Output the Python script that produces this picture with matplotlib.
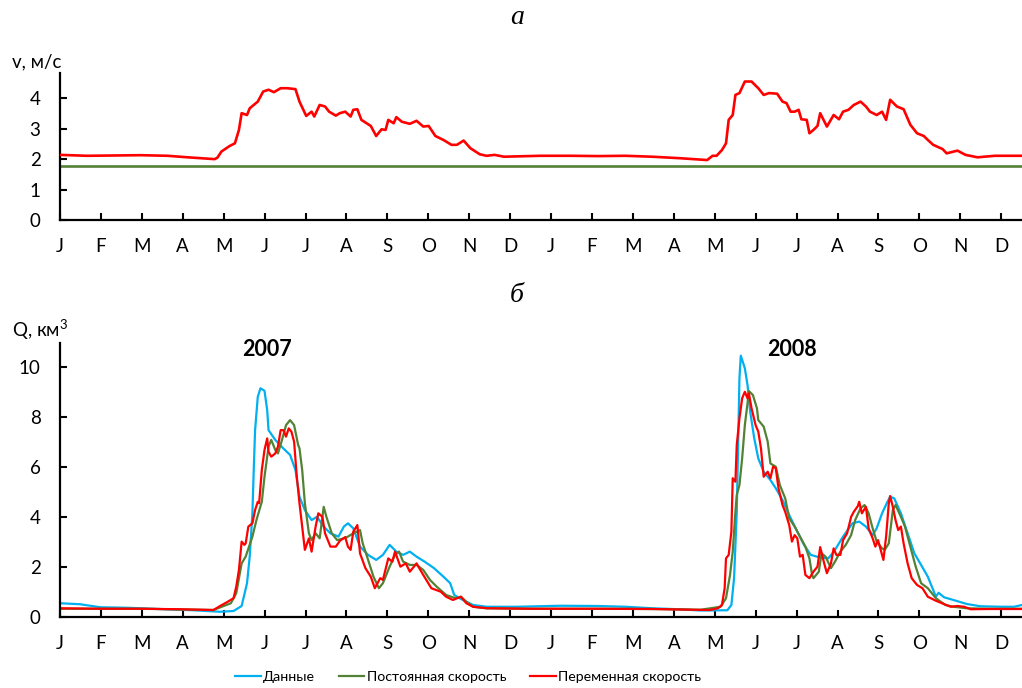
import numpy as np
import matplotlib.pyplot as plt

# --- data (day index from 1 Jan 2007) ---
# panel a: flow speed, m/s
v_days = [0, 20, 40, 60, 80, 95, 105, 115, 117, 120, 126, 130, 133, 135, 139, 141, 147, 151, 155,
          159, 164, 169, 175, 178, 183, 187, 189, 193, 197, 200, 205, 208, 212, 216, 218, 221, 224,
          231, 235, 239, 242, 244, 248, 250, 254, 260, 265, 270, 274, 279, 285, 291, 295, 300, 305,
          312, 317, 323, 330, 357, 380, 400, 420, 440, 461, 471, 481, 485, 488, 492, 495, 497, 500,
          502, 505, 509, 514, 519, 523, 527, 533, 537, 540, 543, 546, 549, 551, 555, 557, 560, 563,
          565, 570, 575, 579, 582, 586, 590, 595, 599, 602, 607, 611, 614, 617, 622, 627, 632, 637,
          642, 645, 649, 656, 659, 667, 673, 682, 687, 695, 715]
v_var = [2.14, 2.11, 2.12, 2.13, 2.11, 2.06, 2.03, 2.00, 2.05, 2.25, 2.43, 2.52, 2.96, 3.51, 3.45,
         3.67, 3.89, 4.22, 4.28, 4.20, 4.33, 4.33, 4.30, 3.89, 3.42, 3.56, 3.40, 3.78, 3.73, 3.56,
         3.43, 3.51, 3.56, 3.40, 3.62, 3.64, 3.29, 3.09, 2.76, 2.98, 2.96, 3.29, 3.18, 3.38, 3.23,
         3.16, 3.26, 3.07, 3.09, 2.76, 2.63, 2.47, 2.47, 2.61, 2.36, 2.16, 2.11, 2.14, 2.08, 2.11,
         2.11, 2.10, 2.11, 2.08, 2.03, 2.00, 1.97, 2.11, 2.11, 2.30, 2.52, 3.29, 3.45, 4.11, 4.17,
         4.55, 4.55, 4.33, 4.11, 4.17, 4.15, 3.89, 3.84, 3.56, 3.56, 3.62, 3.31, 3.29, 2.85, 2.96,
         3.09, 3.51, 3.07, 3.45, 3.31, 3.56, 3.62, 3.78, 3.89, 3.73, 3.56, 3.45, 3.56, 3.29, 3.95,
         3.73, 3.64, 3.13, 2.85, 2.76, 2.63, 2.47, 2.33, 2.19, 2.28, 2.14, 2.06, 2.08, 2.11, 2.11]
v_const = 1.76

# panel b: discharge, km3
obs_days = [0, 15, 30, 50, 74, 99, 119, 129, 135, 139, 141, 143, 144, 145, 147, 149, 152, 154, 155,
            160, 166, 171, 175, 178, 182, 187, 191, 196, 201, 207, 211, 214, 218, 223, 229, 235, 240,
            245, 250, 255, 260, 265, 271, 278, 285, 290, 293, 298, 307, 317, 340, 372, 400, 420, 440,
            460, 476, 496, 499, 501, 503, 504, 505, 506, 509, 511, 513, 516, 519, 523, 528, 532, 537,
            542, 548, 553, 558, 564, 571, 575, 582, 589, 594, 599, 604, 607, 611, 615, 617, 620, 625,
            630, 635, 640, 645, 649, 651, 653, 657, 664, 674, 684, 700, 709, 715]
q_obs = [0.56, 0.52, 0.40, 0.38, 0.33, 0.28, 0.22, 0.25, 0.45, 1.36, 2.42, 4.15, 5.88, 7.47, 8.80,
         9.14, 9.04, 8.27, 7.47, 7.08, 6.74, 6.48, 5.88, 4.81, 4.28, 3.88, 4.01, 3.62, 3.35, 3.22,
         3.62, 3.75, 3.55, 2.82, 2.49, 2.29, 2.49, 2.89, 2.62, 2.49, 2.62, 2.42, 2.22, 1.96, 1.62,
         1.36, 0.89, 0.73, 0.49, 0.42, 0.42, 0.46, 0.45, 0.42, 0.36, 0.32, 0.27, 0.28, 0.49, 1.56,
         4.21, 6.88, 9.54, 10.44, 9.94, 9.27, 8.20, 7.14, 6.34, 5.81, 5.48, 5.15, 4.68, 4.08, 3.42,
         2.89, 2.49, 2.40, 2.35, 2.60, 3.22, 3.75, 3.82, 3.62, 3.28, 3.55, 4.15, 4.61, 4.81, 4.75,
         4.15, 3.35, 2.55, 2.09, 1.62, 1.09, 0.82, 0.98, 0.80, 0.69, 0.53, 0.44, 0.42, 0.42, 0.49]

const_days = [0, 60, 114, 127, 131, 135, 138, 143, 146, 150, 152, 155, 157, 160, 162, 165, 168, 171,
              174, 177, 178, 180, 182, 185, 187, 190, 193, 196, 198, 202, 206, 211, 214, 218, 223,
              225, 229, 233, 237, 240, 245, 249, 252, 255, 260, 265, 270, 275, 280, 287, 294, 298,
              302, 307, 317, 350, 400, 440, 476, 491, 495, 498, 500, 502, 503, 505, 507, 509, 511,
              512, 515, 518, 519, 523, 526, 528, 532, 535, 539, 542, 546, 550, 554, 557, 559, 560,
              564, 566, 569, 573, 576, 580, 584, 588, 591, 595, 598, 601, 604, 607, 611, 613, 616,
              619, 621, 625, 628, 632, 636, 640, 645, 651, 658, 664, 674, 690, 715]
q_const = [0.34, 0.34, 0.29, 0.56, 0.96, 2.15, 2.42, 3.22, 3.88, 4.61, 5.61, 6.81, 7.08, 6.68,
           6.54, 7.08, 7.67, 7.87, 7.67, 6.88, 6.74, 5.88, 4.55, 3.35, 3.08, 3.35, 3.15, 4.41, 4.01,
           3.35, 3.08, 3.15, 3.22, 3.35, 3.48, 2.95, 2.29, 1.62, 1.16, 1.36, 2.02, 2.49, 2.62, 2.22,
           2.09, 2.09, 1.89, 1.49, 1.22, 0.89, 0.76, 0.82, 0.62, 0.42, 0.36, 0.34, 0.34, 0.33, 0.30,
           0.42, 0.76, 1.69, 2.62, 4.21, 4.88, 5.28, 6.34, 7.67, 8.54, 9.03, 8.87, 8.34, 7.87, 7.61,
           7.01, 6.14, 6.01, 5.28, 4.75, 3.95, 3.62, 3.22, 2.82, 2.35, 1.69, 1.56, 1.82, 2.55, 2.42,
           1.96, 2.22, 2.62, 2.89, 3.28, 3.88, 4.35, 4.48, 4.15, 3.55, 3.02, 2.75, 2.69, 2.95, 4.28,
           4.48, 4.01, 3.62, 2.82, 2.02, 1.36, 1.16, 0.76, 0.49, 0.42, 0.36, 0.34, 0.34]

var_days = [0, 30, 60, 90, 114, 119, 124, 129, 131, 133, 135, 137, 138, 140, 143, 145, 147, 148,
            150, 152, 154, 155, 157, 160, 162, 164, 166, 168, 170, 172, 174, 176, 178, 180, 182, 185,
            187, 190, 192, 195, 197, 201, 205, 208, 212, 214, 216, 218, 221, 223, 227, 231, 234, 238,
            240, 244, 247, 249, 253, 257, 260, 265, 270, 276, 283, 287, 292, 298, 302, 307, 317, 350,
            400, 440, 470, 483, 489, 492, 494, 495, 497, 499, 500, 502, 503, 505, 507, 509, 511, 512,
            514, 517, 519, 521, 523, 526, 528, 530, 532, 534, 537, 539, 542, 544, 546, 548, 550, 552,
            554, 557, 560, 563, 565, 568, 570, 573, 575, 577, 580, 582, 585, 588, 590, 593, 594, 596,
            599, 601, 604, 606, 608, 610, 612, 614, 616, 617, 619, 621, 623, 625, 627, 630, 633, 637,
            641, 645, 651, 657, 662, 667, 672, 677, 690, 715]
q_var = [0.36, 0.34, 0.34, 0.32, 0.29, 0.45, 0.60, 0.76, 1.22, 1.89, 3.02, 2.89, 2.95, 3.62, 3.75,
         4.28, 4.61, 4.55, 5.88, 6.68, 7.14, 6.61, 6.41, 6.54, 6.81, 7.47, 7.47, 7.21, 7.54, 7.41,
         7.01, 5.61, 4.55, 3.62, 2.69, 3.15, 2.62, 3.62, 4.15, 4.01, 3.35, 2.82, 2.82, 3.05, 3.20,
         2.82, 2.69, 3.42, 3.68, 2.55, 1.96, 1.62, 1.16, 1.56, 1.49, 2.35, 2.22, 2.62, 2.02, 2.15,
         1.82, 2.15, 1.69, 1.16, 1.02, 0.82, 0.69, 0.82, 0.56, 0.42, 0.36, 0.34, 0.34, 0.33, 0.30,
         0.29, 0.36, 0.49, 1.16, 2.35, 2.49, 3.42, 5.55, 5.41, 6.88, 7.94, 8.74, 9.00, 8.74, 8.94,
         8.34, 7.67, 7.41, 6.74, 5.61, 5.81, 5.55, 6.01, 5.95, 5.15, 4.48, 4.21, 3.68, 3.02, 3.28,
         3.15, 2.42, 2.49, 1.69, 1.56, 1.82, 2.02, 2.80, 2.15, 1.76, 2.15, 2.75, 2.49, 2.49, 3.08,
         3.35, 4.01, 4.21, 4.44, 4.61, 4.15, 4.41, 3.55, 3.15, 2.82, 3.08, 2.69, 2.29, 3.22, 4.55,
         4.84, 4.41, 3.88, 3.48, 3.62, 2.95, 2.15, 1.56, 1.29, 1.16, 0.82, 0.66, 0.53, 0.42, 0.45,
         0.42, 0.32, 0.33, 0.33]

month_labels = ['J', 'F', 'M', 'A', 'M', 'J', 'J', 'A', 'S', 'O', 'N', 'D'] * 2
series_names = ['Данные', 'Постоянная скорость', 'Переменная скорость']

BLUE = '#00B0F0'
GREEN = '#548235'
RED = '#FF0000'

plt.rcParams['font.family'] = ['Lato', 'DejaVu Sans']
plt.rcParams['mathtext.fontset'] = 'custom'
plt.rcParams['mathtext.rm'] = 'Lato'

fig = plt.figure(figsize=(10.22, 6.88), dpi=100)
ax1 = fig.add_axes([0.0587, 0.6802, 0.9413, 0.2137])
ax2 = fig.add_axes([0.0587, 0.1028, 0.9413, 0.3991])

tick_pos = np.arange(24) * 365 / 12
xmax = 715

# panel a
ax1.plot(v_days, v_var, color=RED, lw=1.9, zorder=3)
ax1.axhline(v_const, color=GREEN, lw=1.9, zorder=2)
ax1.set_ylim(0, 4.83)
ax1.set_yticks([0, 1, 2, 3, 4])

# panel b
ax2.plot(obs_days, q_obs, color=BLUE, lw=1.6, label=series_names[0])
ax2.plot(const_days, q_const, color=GREEN, lw=1.6, label=series_names[1])
ax2.plot(var_days, q_var, color=RED, lw=1.6, label=series_names[2])
ax2.set_ylim(0, 10.96)
ax2.set_yticks([0, 2, 4, 6, 8, 10])

for ax in (ax1, ax2):
    ax.set_xlim(0, xmax)
    ax.set_xticks(tick_pos)
    ax.set_xticklabels(month_labels)
    for s in ('top', 'right'):
        ax.spines[s].set_visible(False)
    for s in ('left', 'bottom'):
        ax.spines[s].set_linewidth(1.6)
    ax.tick_params(axis='x', direction='in', length=5, width=1.5, pad=13, labelsize=13.5)
    ax.tick_params(axis='y', direction='in', length=5, width=1.5, pad=14, labelsize=13.5)
    ax.set_facecolor('none')

fig.text(37 / 1022, 1 - 62 / 688, 'v, м/с', fontsize=13.5, ha='center', va='center')
fig.text(40 / 1022, 1 - 330 / 688, 'Q, км$^{3}$', fontsize=13.5, ha='center', va='center')
fig.text(517 / 1022, 1 - 18 / 688, 'а', fontsize=20, family='Liberation Serif',
         style='italic', ha='center', va='center')
fig.text(517 / 1022, 1 - 296 / 688, 'б', fontsize=20, family='Liberation Serif',
         style='italic', ha='center', va='center')
fig.text(267 / 1022, 1 - 350 / 688, '2007', fontsize=15.5, weight='bold', ha='center', va='center')
fig.text(792 / 1022, 1 - 350 / 688, '2008', fontsize=15.5, weight='bold', ha='center', va='center')

fig.legend(loc='center', bbox_to_anchor=(468 / 1022, 1 - 677 / 688), ncol=3, frameon=False,
           fontsize=10.2, handlelength=1.8, handletextpad=0.15, columnspacing=1.7)

fig.savefig('out.png', dpi=100)
